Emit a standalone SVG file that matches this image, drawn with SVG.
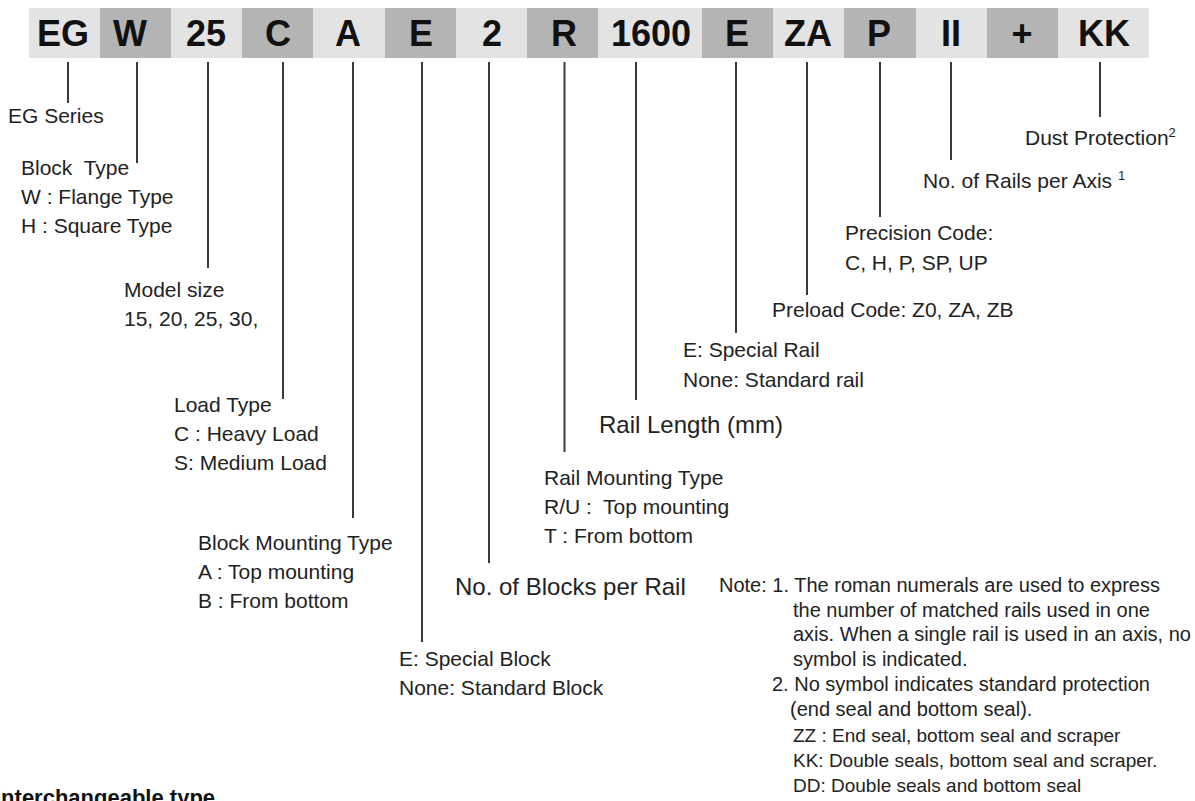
<svg xmlns="http://www.w3.org/2000/svg" width="1195" height="801" viewBox="0 0 1195 801">
<style>
.lt{fill:#e3e3e3}
.dk{fill:#b4b4b4}
.code{font-family:"Liberation Sans",Arial,sans-serif;font-weight:bold;font-size:36px;fill:#111;text-anchor:middle}
.lbl{font-family:"Liberation Sans",Arial,sans-serif;font-size:21px;fill:#222}
.big{font-family:"Liberation Sans",Arial,sans-serif;font-size:24px;fill:#222}
.note{font-family:"Liberation Sans",Arial,sans-serif;font-size:20px;fill:#222}
.sm{font-family:"Liberation Sans",Arial,sans-serif;font-size:19px;fill:#222}
.sup{font-size:13px}
.ttl{font-family:"Liberation Sans",Arial,sans-serif;font-size:22px;font-weight:bold;fill:#111}
.ln{stroke:#3a3a3a;stroke-width:2;fill:none}
</style>
<rect width="1195" height="801" fill="#ffffff"/>
<g id="code-bar">
<g id="box-EG"><rect class="lt" x="29" y="8" width="71" height="50"/><text class="code" x="63" y="46">EG</text></g>
<g id="box-W"><rect class="dk" x="100" y="8" width="71" height="50"/><text class="code" x="130" y="46">W</text></g>
<g id="box-25"><rect class="lt" x="171" y="8" width="71" height="50"/><text class="code" x="206" y="46">25</text></g>
<g id="box-C"><rect class="dk" x="242" y="8" width="71" height="50"/><text class="code" x="278" y="46">C</text></g>
<g id="box-A"><rect class="lt" x="313" y="8" width="72" height="50"/><text class="code" x="348" y="46">A</text></g>
<g id="box-E1"><rect class="dk" x="385" y="8" width="71" height="50"/><text class="code" x="421" y="46">E</text></g>
<g id="box-2"><rect class="lt" x="456" y="8" width="71" height="50"/><text class="code" x="492" y="46">2</text></g>
<g id="box-R"><rect class="dk" x="527" y="8" width="71" height="50"/><text class="code" x="564" y="46">R</text></g>
<g id="box-1600"><rect class="lt" x="598" y="8" width="104" height="50"/><text class="code" x="651" y="46">1600</text></g>
<g id="box-E2"><rect class="dk" x="702" y="8" width="71" height="50"/><text class="code" x="737" y="46">E</text></g>
<g id="box-ZA"><rect class="lt" x="773" y="8" width="71" height="50"/><text class="code" x="808" y="46">ZA</text></g>
<g id="box-P"><rect class="dk" x="844" y="8" width="72" height="50"/><text class="code" x="879" y="46">P</text></g>
<g id="box-II"><rect class="lt" x="916" y="8" width="71" height="50"/><text class="code" x="951" y="46">II</text></g>
<g id="box-plus"><rect class="dk" x="987" y="8" width="71" height="50"/><text class="code" x="1022" y="46">+</text></g>
<g id="box-KK"><rect class="lt" x="1058" y="8" width="91" height="50"/><text class="code" x="1104" y="46">KK</text></g>
</g>
<g id="connectors">
<line class="ln" x1="68" y1="62" x2="68" y2="103"/>
<line class="ln" x1="137" y1="62" x2="137" y2="163"/>
<line class="ln" x1="208" y1="62" x2="208" y2="268"/>
<line class="ln" x1="283" y1="62" x2="283" y2="399"/>
<line class="ln" x1="353" y1="62" x2="353" y2="518"/>
<line class="ln" x1="422" y1="62" x2="422" y2="642"/>
<line class="ln" x1="489" y1="62" x2="489" y2="563"/>
<line class="ln" x1="564.5" y1="62" x2="564.5" y2="452"/>
<line class="ln" x1="636" y1="62" x2="636" y2="400"/>
<line class="ln" x1="736" y1="62" x2="736" y2="333"/>
<line class="ln" x1="807" y1="62" x2="807" y2="295"/>
<line class="ln" x1="880" y1="62" x2="880" y2="217"/>
<line class="ln" x1="951" y1="62" x2="951" y2="160"/>
<line class="ln" x1="1100" y1="62" x2="1100" y2="117"/>
</g>
<g id="label-series"><text class="lbl" x="8" y="123">EG Series</text></g>
<g id="label-block-type">
<text class="lbl" x="21" y="175" xml:space="preserve">Block  Type</text>
<text class="lbl" x="21" y="204">W : Flange Type</text>
<text class="lbl" x="21" y="233">H : Square Type</text>
</g>
<g id="label-model-size">
<text class="lbl" x="124" y="297">Model size</text>
<text class="lbl" x="124" y="326">15, 20, 25, 30,</text>
</g>
<g id="label-load-type">
<text class="lbl" x="174" y="412">Load Type</text>
<text class="lbl" x="174" y="441">C : Heavy Load</text>
<text class="lbl" x="174" y="470">S: Medium Load</text>
</g>
<g id="label-block-mounting">
<text class="lbl" x="198" y="550">Block Mounting Type</text>
<text class="lbl" x="198" y="579">A : Top mounting</text>
<text class="lbl" x="198" y="608">B : From bottom</text>
</g>
<g id="label-special-block">
<text class="lbl" x="399" y="666">E: Special Block</text>
<text class="lbl" x="399" y="695">None: Standard Block</text>
</g>
<g id="label-blocks-per-rail"><text class="big" x="455" y="595">No. of Blocks per Rail</text></g>
<g id="label-rail-mounting">
<text class="lbl" x="544" y="485">Rail Mounting Type</text>
<text class="lbl" x="544" y="514" xml:space="preserve">R/U :  Top mounting</text>
<text class="lbl" x="544" y="543">T : From bottom</text>
</g>
<g id="label-rail-length"><text class="big" x="599" y="433">Rail Length (mm)</text></g>
<g id="label-special-rail">
<text class="lbl" x="683" y="357">E: Special Rail</text>
<text class="lbl" x="683" y="387">None: Standard rail</text>
</g>
<g id="label-preload"><text class="lbl" x="772" y="317">Preload Code: Z0, ZA, ZB</text></g>
<g id="label-precision">
<text class="lbl" x="845" y="240">Precision Code:</text>
<text class="lbl" x="845" y="270">C, H, P, SP, UP</text>
</g>
<g id="label-rails-per-axis"><text class="lbl" x="923" y="188">No. of Rails per Axis <tspan class="sup" dy="-8">1</tspan></text></g>
<g id="label-dust"><text class="lbl" x="1025" y="145">Dust Protection<tspan class="sup" dy="-8">2</tspan></text></g>
<g id="notes">
<text class="note" x="719" y="592">Note: 1. The roman numerals are used to express</text>
<text class="note" x="793" y="616.5">the number of matched rails used in one</text>
<text class="note" x="793" y="641">axis. When a single rail is used in an axis, no</text>
<text class="note" x="793" y="665.5">symbol is indicated.</text>
<text class="note" x="772" y="690.5">2. No symbol indicates standard protection</text>
<text class="note" x="790" y="716">(end seal and bottom seal).</text>
<text class="sm" x="793" y="741.5">ZZ : End seal, bottom seal and scraper</text>
<text class="sm" x="793" y="766.5">KK: Double seals, bottom seal and scraper.</text>
<text class="sm" x="793" y="792">DD: Double seals and bottom seal</text>
</g>
<g id="title"><text class="ttl" x="-5" y="805">Interchangeable type</text></g>
</svg>
